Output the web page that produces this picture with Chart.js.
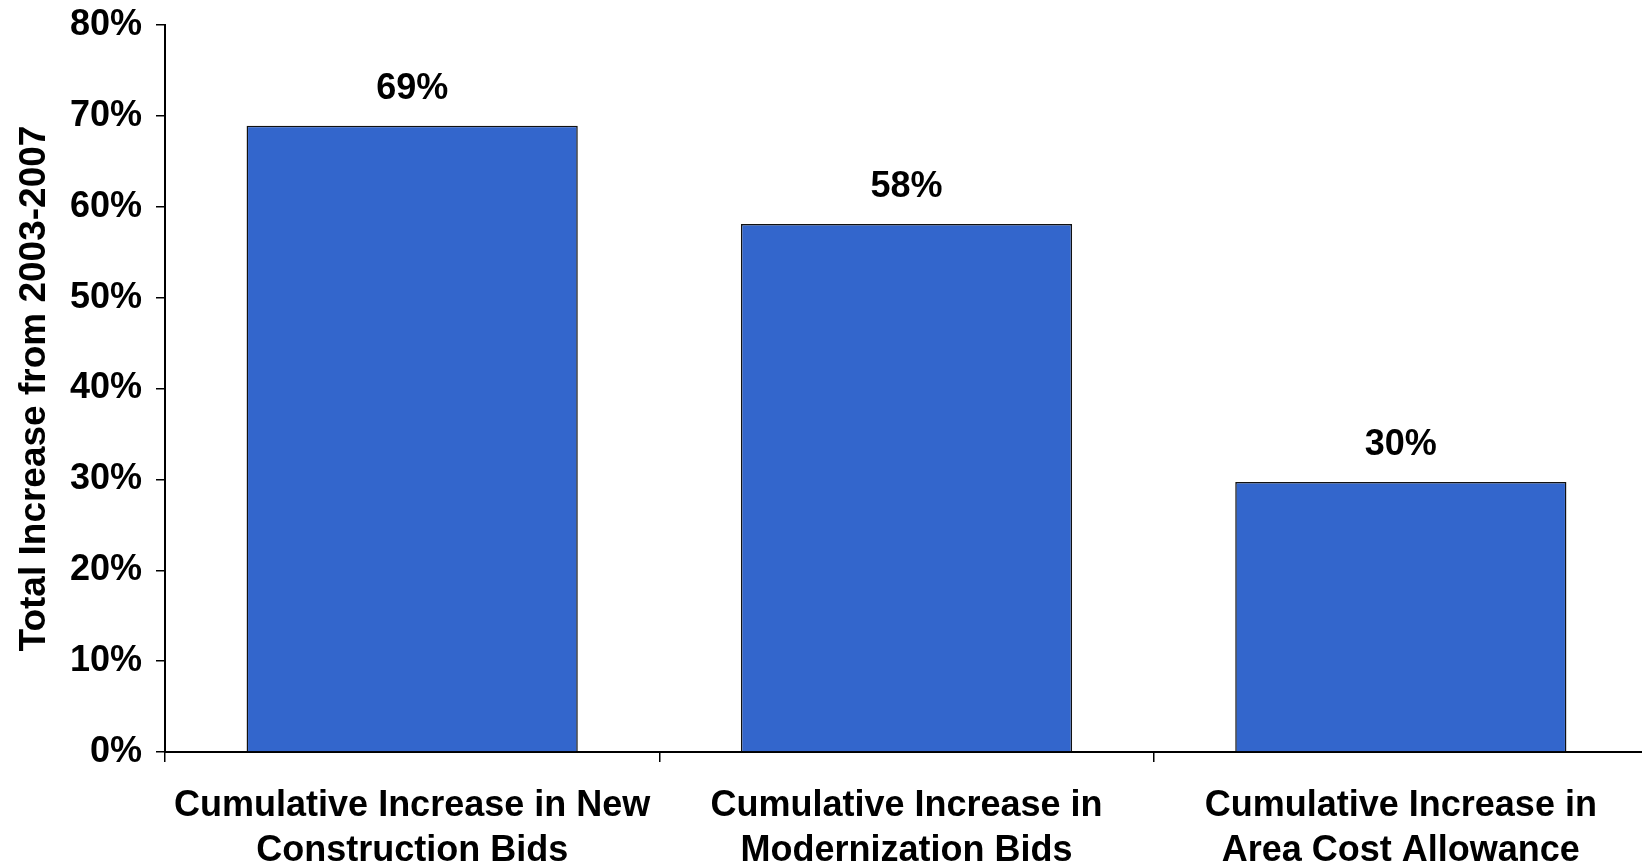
<!DOCTYPE html>
<html>
<head>
<meta charset="utf-8">
<script src="https://cdn.jsdelivr.net/npm/chart.js@4"></script>
<style>
  html, body { margin: 0; padding: 0; background: #fff; overflow: hidden; }
  /* the plot runs slightly past the right edge of the window, as in the original */
  .chart-container { width: 1648px; height: 864px; position: relative; }
</style>
</head>
<body>
<div class="chart-container">
  <canvas id="bid-chart"></canvas>
</div>
<script>
const categories = [
  ['Cumulative Increase in New', 'Construction Bids'],
  ['Cumulative Increase in', 'Modernization Bids'],
  ['Cumulative Increase in', 'Area Cost Allowance']
];
const increases = [68.9, 58.1, 29.7];
const yTitle = 'Total Increase from 2003-2007';

const fontFamily = '"Liberation Sans", Arial, sans-serif';

// Draws the percentage above each bar
const barLabels = {
  id: 'barLabels',
  afterDatasetsDraw(chart) {
    const { ctx } = chart;
    const meta = chart.getDatasetMeta(0);
    ctx.save();
    ctx.font = 'bold 36px ' + fontFamily;
    ctx.fillStyle = '#000';
    ctx.textAlign = 'center';
    ctx.textBaseline = 'middle';
    meta.data.forEach((bar, i) => {
      ctx.fillText(Math.round(increases[i]) + '%', bar.x, bar.y - 37);
    });
    ctx.restore();
  }
};

const ctx = document.getElementById('bid-chart');

new Chart(ctx, {
  type: 'bar',
  data: {
    labels: categories,
    datasets: [{
      data: increases,
      backgroundColor: '#3366CC',
      borderColor: '#111',
      borderWidth: 1.5,
      categoryPercentage: 1,
      barPercentage: 0.67
    }]
  },
  options: {
    responsive: true,
    maintainAspectRatio: false,
    animation: false,
    layout: { padding: { top: 25, left: 0, right: 0, bottom: 0 } },
    plugins: {
      legend: { display: false },
      tooltip: { enabled: false }
    },
    scales: {
      x: {
        afterFit(scale) { scale.height = 112; },
        border: { display: true, color: '#000', width: 2 },
        grid: {
          drawOnChartArea: false,
          drawTicks: true,
          tickLength: 10,
          color: '#000',
          lineWidth: 1.5
        },
        ticks: {
          color: '#000',
          padding: 22,
          maxRotation: 0,
          autoSkip: false,
          font: { family: fontFamily, size: 36, weight: 'bold', lineHeight: 1.25 }
        }
      },
      y: {
        min: 0,
        max: 80,
        afterFit(scale) {
          scale.width = 165;
          // let the layout padding decide where the plot starts
          scale.paddingTop = 0;
          scale.paddingBottom = 0;
        },
        border: { display: true, color: '#000', width: 2 },
        grid: {
          drawOnChartArea: false,
          drawTicks: true,
          tickLength: 9,
          color: '#000',
          lineWidth: 1.5
        },
        ticks: {
          stepSize: 10,
          color: '#000',
          padding: 14,
          font: { family: fontFamily, size: 36, weight: 'bold' },
          callback: v => v + '%'
        },
        title: {
          display: true,
          text: yTitle,
          color: '#000',
          padding: { top: 13, bottom: 4 },
          font: { family: fontFamily, size: 37, weight: 'bold', lineHeight: 1.2 }
        }
      }
    }
  },
  plugins: [barLabels]
});
</script>
</body>
</html>
